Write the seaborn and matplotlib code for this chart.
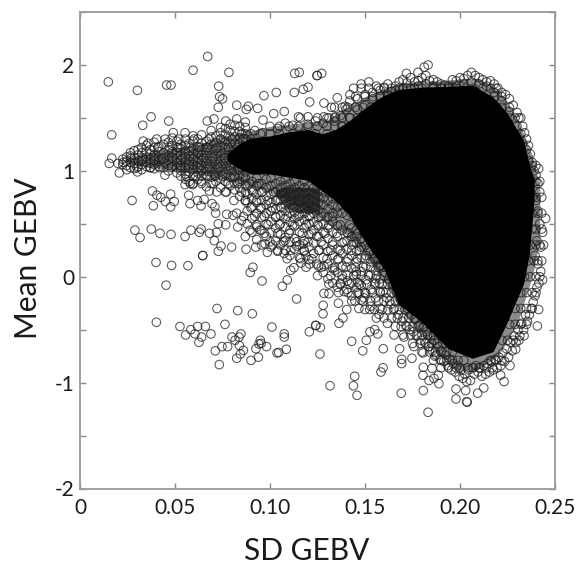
import matplotlib
matplotlib.use("Agg")
import matplotlib.pyplot as plt
import seaborn as sns
import pandas as pd

# ---- isolated circles ----
sparse_x = [.0149,.0302,.0456,.0479,.0595,.0672,.0784,.073,.0735,.075,.0728,.0825,.0886,.0875,.0935,.0968,.1033,.113,.1154,.1247,
 .1128,.1175,.12,.1209,.102,.1075,.115,.12,.0963,.0374,.033,.0467,.0167,.067,.0705,.0767,.0825,.0553,.0491,.0404,.0449,.0333,.0358,
 .0167,.0154,.0207,.0228,.0246,.0302,.0447,.0553,.0593,.0381,.0405,.0425,.0477,.0449,.0496,.0477,.0386,.0274,.0572,.0579,.0619,.0653,.0637,.0681,.0695,.071,.0714,.0772,.0825,.0805,.085,.0728,.0767,.083,
 .0289,.0316,.0375,.0421,.0479,.0553,.0584,.0637,.0628,.0682,.0718,.0707,.0742,.0728,.0798,.0874,.0925,.0986,.104,.1074,.0974,.1014,.1079,.114,.1175,.1189,.1246,.0646,.0870,.0895,.0947,
 .04,.0482,.0568,.0646,.0453,.091,.0896,.0958,.1109,.1126,.1091,.1065,.1163,.1209,.1246,.114,.0721,.083,.0907,.0402,.0526,.0619,.066,.0583,.0556,.0605,.064,.0626,.0689,.0763,.0712,.0747,.0777,.0733,.08,.0816,.0847,.0837,.0839,.086,.0844,.0825,.09,.0939,.0926,.0949,.0953,.0942,.0982,.101,.1075,.1075,.1037,.1046,.1086,.1207,.1242,.1263,
 .1316,.1446,.1439,.1458,.143,.1507,.1488,.1526,.1551,.1567,.1596,.1595,.1584,.1682,.1693,.1693,.1691,.1747,.1807,.1853,.1805,.1886,.1863,.1837,.1889,.1807,.1832,.1979,.1979,.2035,.2038,.203,.2093,.2125,.2214,.2232,.2263,.2293,.2407,.2337,.2414,
 .1279,.128,.124,.1265,.1363,.1384,.1404,.1468,.1525,.1574,.1447,.1495,.1468,.1284,.131,.136,.139,.137,.133,.1407,.146,.1339,.1284,.1454,.1618,.1653,.1705,.1758,.1837,.1868,.1805,
 .1832,.1812,.1718,.1779,.1272,.1249,.1354,.1284,.1323,.1395,.1421,.1284,.1344,.2414,.2451]
sparse_y = [1.84,1.76,1.81,1.81,1.95,2.08,1.93,1.80,1.70,1.68,1.60,1.62,1.61,1.58,1.59,1.71,1.74,1.92,1.93,1.90,
 1.74,1.77,1.79,1.65,1.54,1.56,1.51,1.51,1.48,1.51,1.43,1.47,1.34,1.47,1.49,1.47,1.49,1.36,1.36,1.30,1.30,1.28,1.26,
 1.12,1.07,.98,1.08,1.01,.99,.96,.87,.87,.81,.77,.75,.78,.71,.71,.66,.67,.72,.77,.69,.72,.73,.67,.81,.69,.66,.60,.59,.60,.58,.53,.50,.49,.47,
 .44,.37,.45,.41,.40,.38,.44,.45,.42,.41,.42,.34,.29,.24,.28,.26,.28,.23,.24,.22,.31,.30,.34,.29,.31,.20,.38,.20,.38,.44,.44,
 .135,.107,.104,.2,-.08,.09,.04,-.04,.06,.085,-.03,-.09,.13,.12,.12,-.21,-.30,-.32,-.35,-.43,-.47,-.47,-.47,-.50,-.55,-.54,-.57,-.62,-.54,-.45,-.70,-.66,-.66,-.83,-.57,-.60,-.54,-.57,-.65,-.695,-.73,-.77,-.79,-.76,-.68,-.60,-.63,-.635,-.66,-.475,-.54,-.57,-.72,-.715,-.685,-.52,-.46,-.73,
 -1.03,-.94,-1.03,-1.12,-.61,-.60,-.70,-.52,-.50,-.54,-.68,-.86,-.90,-.68,-.78,-.82,-1.10,-.77,-.855,-.865,-.93,-.93,-.96,-.98,-1.01,-1.075,-1.28,-1.06,-1.154,-1.18,-1.185,-1.075,-1.10,-1.05,-.93,-.99,-.84,-.685,-.465,-.557,-.31,
 -.35,-.27,-.46,-.48,-.44,-.39,-.31,-.30,-.31,-.355,-.23,-.2,-.16,-.157,-.16,-.25,-.14,-.06,-.06,-.04,-.05,.06,.10,.047,-.44,-.55,-.57,-.66,-.66,-.75,-.72,
 2.0,1.98,1.92,1.93,1.92,1.90,1.69,1.64,1.60,1.61,1.72,1.51,1.51,1.02,.55]

# ---- crowded tail running left along y = 1.1, columns of circles ----
tail_col_x = [.020,.0225,.0245,.0265,.0285,.0305,.0325,.035,.037,.039,.0415,.044,.0465,.0485,.051,.053,.0555,.0575,.0595,.062,.064,.0665,.069,.0715,.074,.0765,.079,.0815,.084,.087]
tail_col_y = [[1.07],[1.06,1.11],[1.05,1.09,1.13],[1.03,1.08,1.14,1.17],[1.02,1.07,1.12,1.19],[1.04,1.09,1.15,1.2],[1.01,1.06,1.1,1.17,1.22],[1.04,1.08,1.13,1.18,1.24],
 [1.03,1.07,1.11,1.16,1.2],[1.02,1.06,1.1,1.15,1.22,1.27],[1.04,1.09,1.13,1.18,1.23],[1.03,1.08,1.12,1.17,1.25],[1.0,1.05,1.1,1.14,1.2,1.27],[1.04,1.09,1.13,1.18,1.24,1.31],
 [.98,1.03,1.08,1.12,1.17,1.22,1.28],[.95,1.0,1.05,1.1,1.15,1.21,1.25],[.92,.97,1.03,1.08,1.13,1.18,1.24,1.3],[.9,.99,1.05,1.09,1.14,1.19,1.26],[.88,.95,1.01,1.06,1.11,1.16,1.21,1.28,1.33],
 [.92,.98,1.03,1.08,1.12,1.17,1.23,1.3],[.9,.95,1.0,1.05,1.1,1.15,1.2,1.26,1.34],[.85,.96,1.02,1.07,1.12,1.17,1.22,1.28],[.88,.94,.99,1.04,1.09,1.14,1.2,1.25,1.32,1.38],
 [.9,.96,1.01,1.06,1.11,1.16,1.21,1.27,1.33],[.84,.93,.99,1.04,1.09,1.14,1.19,1.24,1.3,1.36,1.41],[.8,.9,.97,1.02,1.07,1.12,1.17,1.22,1.28,1.34,1.4],[.86,.94,1.0,1.05,1.1,1.15,1.2,1.26,1.32,1.38,1.44],
 [.82,.88,.94,1.0,1.05,1.1,1.15,1.2,1.26,1.32,1.37,1.43],[.76,.84,.9,.96,1.01,1.07,1.26,1.31,1.37,1.42],[.72,.8,.87,.93,.99,1.3,1.35,1.41,1.46]]

# ---- loose cloud below the crowded band, columns of circles ----
cloud_col_x = [.088,.0905,.093,.0955,.098,.1005,.103,.1055,.108,.1105,.113,.1155,.118,.1205,.123,.1255,.128,.1305,.133,.1355,.138,.1405,.143,.1455,.148,.1505,.153,.1555,.158]
cloud_col_y = [[.5,.62,.7,.78,.86],[.42,.55,.66,.74,.82,.9],[.35,.47,.6,.7,.78,.86,.93],[.3,.44,.56,.65,.72,.8,.88],[.38,.5,.6,.68,.76,.84,.92],[.28,.42,.52,.62,.7,.78,.86,.93],
 [.34,.46,.56,.64,.72,.8,.88],[.3,.4,.5,.58,.66,.72,.78,.84,.9],[.25,.37,.47,.55,.62,.68,.74,.8,.86,.92],[.2,.33,.44,.52,.6,.65,.7,.76,.82,.88],[.26,.36,.48,.55,.61,.66,.72,.78,.84,.9],
 [.18,.3,.42,.52,.58,.64,.7,.75,.8,.86],[.24,.34,.46,.54,.6,.66,.72,.78,.84,.9],[.16,.28,.4,.5,.57,.63,.69,.74,.8,.86],[.22,.32,.44,.52,.6,.66,.72,.78,.84],[.1,.25,.38,.48,.56,.63,.7,.76,.82],
 [.04,.18,.3,.42,.5,.6,.68,.74,.8],[-.02,.12,.24,.36,.46,.56,.64,.72],[.08,.2,.3,.42,.52,.6,.68,.74],[-.1,.04,.16,.26,.38,.48,.6,.66],[-.02,.1,.22,.32,.44,.6,.68,.74],[-.12,.02,.14,.26,.34,.42,.58,.66],
 [-.18,-.06,.08,.2,.3,.38,.46,.6],[-.1,.02,.14,.24,.32,.38,.44],[-.22,-.08,.05,.18,.28,.36],[-.16,-.03,.1,.2,.3],[-.28,-.12,.02,.14,.24],[-.2,-.06,.06,.18],[-.3,-.14,-.02,.1]]

# ---- rows of circles crossing the columns, each row at one mean value ----
row_y = [1.22,1.12,1.03,.95,1.3,.88,.8,.72,.65,.57,.49,.41,.33,.25,.17,.09,.01,-.07,-.15,-.23,-.31,-.39,-.47,-.55,-.63,-.71,-.79,-.86,
 -.6,-.45,-.3,-.15,0,.15,.3,.45,.6,.75,.9,1.05,1.2,1.35,1.5,1.6,1.7,1.78,1.6,1.5,1.42,1.35]
row_x = [[.041,.047,.052,.058,.063,.067,.072,.078,.083],[.027,.033,.039,.043,.049,.054,.06,.065,.07,.076,.082,.086],[.03,.037,.042,.048,.053,.057,.063,.068,.073,.079,.084],
 [.056,.061,.067,.071,.075,.081,.086],[.052,.06,.068,.074,.08,.086,.09],[.058,.064,.07,.078,.083,.089,.094],[.072,.077,.085,.091,.096,.102,.107],[.081,.087,.093,.099,.104,.111],
 [.09,.095,.101,.106,.112,.118,.124],[.086,.092,.097,.103,.109,.115,.121,.127,.133],[.093,.099,.105,.112,.119,.125,.131,.137,.142],[.097,.104,.11,.117,.122,.129,.135,.141,.146,.15],
 [.1,.107,.114,.12,.127,.133,.139,.144,.149,.153],[.104,.111,.118,.126,.132,.137,.143,.147,.152,.156],[.109,.116,.122,.13,.136,.141,.146,.15,.155,.158],[.119,.127,.134,.14,.145,.149,.153,.157,.16],
 [.125,.132,.138,.144,.148,.152,.156,.16,.163],[.131,.137,.142,.147,.151,.155,.159,.162,.165],[.136,.141,.146,.15,.154,.158,.161,.164,.167],[.143,.149,.153,.157,.16,.163,.166,.169],
 [.15,.155,.159,.162,.165,.168,.171],[.156,.16,.164,.167,.17,.173,.176],[.166,.169,.172,.175,.178,.181],[.17,.174,.177,.18,.183,.186],[.175,.179,.182,.185,.188,.191],[.18,.184,.187,.19,.193,.196],
 [.186,.19,.193,.196,.199,.202,.222,.219,.216],[.19,.194,.198,.2,.204,.207,.21,.214,.217],
 [.222,.225,.228,.231],[.226,.229,.232,.235],[.229,.232,.235,.238],[.232,.235,.238,.24],[.234,.237,.24,.242],[.236,.239,.241,.243],[.237,.24,.242,.244],[.238,.24,.243],[.238,.241,.243],[.238,.24,.243],[.237,.24,.242],[.235,.238,.24],[.232,.235],[.229,.232],[.226,.229,.231],[.222,.226],
 [.218,.222,.145,.15,.154,.158,.162],[.148,.152,.157,.16,.164,.168,.172,.176,.18,.186,.19,.194,.198,.203,.207,.212,.216,.219],[.134,.138,.141,.145,.149,.153,.157],[.125,.13,.134,.138,.142,.146,.15],[.105,.11,.115,.12,.125,.13,.134,.138,.142],[.085,.09,.095,.1,.105,.112,.118,.124,.13]]

# ---- ragged upper rim of the black mass, circles ----
top_x = [.088,.092,.096,.100,.104,.108,.112,.116,.120,.124,.128,.131,.134,.137,.140,.142,.144,.146,.148,.150,.152,.154,.156,.158,.160,.162,.164,.166,.168,.170,.172,.174,.176,.178,.180,.182,.184,.186,.188,.190,.192,.194,.196,.198,.200,.202,.204,.206,.208,.210,.212,.214,.216,.218,.220,.222,.224,.226,.228,.230,.232,.233,.234,.235,.236,.237,.238,.239,.240,.241,.242]
top_y = [1.34,1.38,1.36,1.42,1.4,1.45,1.43,1.5,1.44,1.47,1.45,1.5,1.47,1.52,1.58,1.66,1.78,1.68,1.82,1.72,1.84,1.74,1.8,1.76,1.79,1.82,1.75,1.8,1.84,1.86,1.83,1.88,1.84,1.85,1.88,1.9,1.85,1.86,1.84,1.82,1.81,1.8,1.86,1.85,1.88,1.87,1.9,1.93,1.9,1.88,1.86,1.84,1.85,1.82,1.78,1.74,1.72,1.68,1.62,1.55,1.5,1.42,1.36,1.3,1.24,1.16,1.08,1.0,.96,.88,.8]
rim2_x = [.138,.142,.146,.150,.154,.158,.162,.166,.170,.174,.178,.182,.186,.190,.194,.198,.202,.206,.210,.214,.218,.222,.226,.230,.233,.236]
rim2_y = [1.42,1.5,1.58,1.62,1.68,1.7,1.72,1.76,1.78,1.78,1.8,1.82,1.8,1.79,1.78,1.8,1.82,1.84,1.82,1.8,1.74,1.66,1.56,1.42,1.26,1.1]

# ---- ragged right and lower rim, circles ----
low_x = [.240,.241,.242,.2435,.2405,.2425,.2395,.241,.2425,.2435,.2405,.2395,.2385,.2415,.2375,.2365,.2355,.2345,.2335,.2325,.2315,.2305,.2295,.2285,.2275,.2265,.2255,.2245,.2235,.2225,.2215,.2205,.2195,.2185,.2175,.2165,.2155,.2145,.2135,.2125,.2115,.2105,.2095,.2085,.2075,.2065,.2055,.2045,.2035,.2025,.2015,.2005,.1995,.1985,.1975,.1965,.1955,.1945,.1935,.1925,.1915,.1905,.1895,.1885,.1875,.1865,.1855,.1845,.1835,.1825,.1815,.1805,.1795,.1785,.1775,.1765,.1755,.1745,.1735,.1725,.1715,.1705,.1695,.1685,.1675,.1665,.1655,.1645,.1635,.1625,.1615,.1605,.1595,.1585,.1575,.1565,.1555,.1545]
low_y = [.72,.62,.5,.42,.34,.28,.2,.12,.05,-.03,-.1,-.18,-.24,-.06,-.3,-.36,-.42,-.36,-.5,-.44,-.56,-.5,-.62,-.56,-.7,-.62,-.76,-.68,-.8,-.72,-.84,-.76,-.86,-.78,-.88,-.8,-.9,-.82,-.92,-.84,-.94,-.86,-.9,-.84,-.92,-.86,-.98,-.88,-.99,-.92,-.96,-.88,-.94,-.84,-.9,-.82,-.88,-.78,-.84,-.74,-.8,-.7,-.78,-.66,-.74,-.6,-.7,-.56,-.66,-.52,-.62,-.48,-.6,-.46,-.56,-.4,-.52,-.36,-.5,-.3,-.46,-.24,-.42,-.2,-.36,-.14,-.3,-.08,-.26,-.02,-.2,.04,-.14,.1,-.06,.16,-.02,.22]

# ---- outline of the saturated black mass ----
core_x  = [.078,.085,.090,.100,.110,.120,.1275,.1345,.1416,.150,.157,.161,.168,.180,.194,.2065,.217,.224,.233,.236,.2385]
core_lo = [1.10,1.02,.98,.98,.95,.92,.82,.73,.60,.35,.17,.06,-.25,-.42,-.67,-.76,-.70,-.44,-.06,.22,.75]
core_hi = [1.16,1.26,1.30,1.32,1.36,1.38,1.34,1.38,1.46,1.58,1.67,1.71,1.76,1.78,1.79,1.80,1.69,1.55,1.28,1.05,.92]

# ---- half-saturated zone round the black mass ----
fringe_x  = [.025,.04,.06,.075,.09,.10,.12,.13,.14,.15,.16,.17,.18,.19,.20,.21,.22,.23,.238,.242]
fringe_lo = [1.07,1.03,.98,.92,.85,.80,.62,.50,.40,.20,-.05,-.35,-.55,-.75,-.88,-.87,-.75,-.45,.0,.35]
fringe_hi = [1.12,1.19,1.24,1.32,1.38,1.42,1.46,1.48,1.60,1.70,1.78,1.83,1.85,1.85,1.87,1.87,1.77,1.50,1.15,.85]

# ---- darkest patch inside the cloud ----
patch_x  = [.103,.108,.114,.120,.126]
patch_lo = [.76,.66,.61,.60,.62]
patch_hi = [.82,.84,.85,.84,.84]

x_ticks = [0, .05, .10, .15, .20, .25]
x_labels = ["0", "0.05", "0.10", "0.15", "0.20", "0.25"]
y_ticks = [-2, -1.5, -1, -.5, 0, .5, 1, 1.5, 2, 2.5]
y_labels = ["-2", "", "-1", "", "0", "", "1", "", "2", ""]

xs, ys = list(sparse_x), list(sparse_y)
for cx, cy in zip(tail_col_x + cloud_col_x, tail_col_y + cloud_col_y):
    xs += [cx] * len(cy)
    ys += cy
for ry, rx in zip(row_y, row_x):
    xs += rx
    ys += [ry] * len(rx)
xs += top_x + rim2_x + low_x
ys += top_y + rim2_y + low_y
df = pd.DataFrame({"sd": xs, "mean": ys})

sns.set_theme(style="white")
plt.rcParams["font.family"] = ["Lato", "DejaVu Sans"]
fig = plt.figure(figsize=(5.76, 5.65), dpi=100)
ax = fig.add_axes([80/576, 1-488.5/565, 475/576, 476.5/565])

ax.fill_between(fringe_x, fringe_lo, fringe_hi, color="black", alpha=.45, lw=0, zorder=1)
ax.fill_between(patch_x, patch_lo, patch_hi, color="black", alpha=.6, lw=0, zorder=1)
ax.fill_between(core_x, core_lo, core_hi, color="black", lw=1.5, zorder=3)
sns.scatterplot(data=df, x="sd", y="mean", ax=ax, marker="o", s=38, facecolor="none",
                edgecolor="#1c1c1c", linewidth=.75, alpha=.75, zorder=2, legend=False)

ax.set_xlim(0, .25)
ax.set_ylim(-2, 2.5)
ax.set_xticks(x_ticks, x_labels)
ax.set_yticks(y_ticks, y_labels)
ax.tick_params(axis="both", which="major", direction="in", length=4, width=1, color="#888888",
               labelsize=15, labelcolor="#1a1a1a", top=True, right=True, bottom=True, left=True)
ax.tick_params(axis="x", pad=7)
ax.tick_params(axis="y", pad=4)
for s in ax.spines.values():
    s.set_color("#9a9a9a")
    s.set_linewidth(1.3)
ax.set_xlabel("SD GEBV", fontsize=21.5, color="#1a1a1a")
ax.set_ylabel("Mean GEBV", fontsize=21.5, color="#1a1a1a")
ax.xaxis.set_label_coords((307-80)/475, (488.5-537)/476.5, transform=ax.transAxes)
ax.yaxis.set_label_coords((14-80)/475, (488.5-258)/476.5, transform=ax.transAxes)
ax.xaxis.label.set_va("top")
ax.yaxis.label.set_va("top")
fig.savefig("out.png", dpi=100)
